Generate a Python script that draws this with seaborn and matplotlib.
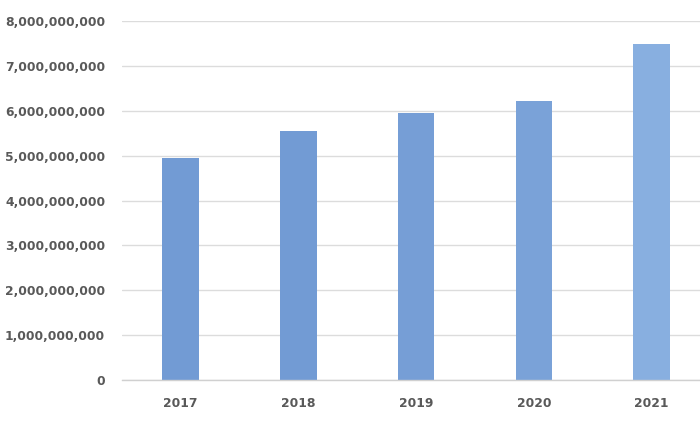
import matplotlib
matplotlib.use("Agg")
import matplotlib.pyplot as plt
import seaborn as sns
import pandas as pd
from matplotlib.ticker import FuncFormatter

years = ["2017", "2018", "2019", "2020", "2021"]
values = [4.95e9, 5.54e9, 5.96e9, 6.21e9, 7.50e9]
bar_colors = ["#729bd4", "#729bd4", "#769ed6", "#7aa2d8", "#88afe0"]

df = pd.DataFrame({"year": years, "value": values})

sns.set_theme(style="white")
plt.rcParams['font.family'] = ['DejaVu Sans']

fig = plt.figure(figsize=(7, 4.3), dpi=100)
ax = fig.add_axes([0.174, 0.116, 0.826, 0.835])

sns.barplot(data=df, x="year", y="value", hue="year", palette=bar_colors,
            legend=False, width=0.31, ax=ax, saturation=1, edgecolor="none")

ax.set_ylim(0, 8e9)
ax.set_xlim(-0.5, 4.41)
ax.set_yticks([i * 1e9 for i in range(9)])
ax.yaxis.set_major_formatter(FuncFormatter(lambda v, p: f"{int(v):,}"))
ax.grid(axis="y", color="#dcdcdc", linewidth=1)
ax.set_axisbelow(True)
for s in ["top", "right", "left"]:
    ax.spines[s].set_visible(False)
ax.spines["bottom"].set_color("#d0d0d0")
ax.spines["bottom"].set_linewidth(1)
ax.set_xlabel("")
ax.set_ylabel("")
ax.tick_params(axis="both", length=0, labelsize=8.9, labelcolor="#595959")
ax.tick_params(axis="y", pad=12)
ax.tick_params(axis="x", pad=12)
for lab in ax.get_xticklabels() + ax.get_yticklabels():
    lab.set_fontweight("bold")

fig.savefig("out.png", dpi=100)
